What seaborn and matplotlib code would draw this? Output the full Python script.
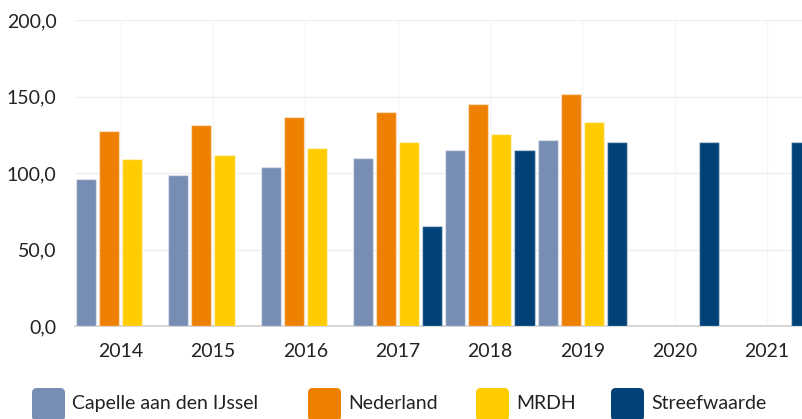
import numpy as np
import pandas as pd
import matplotlib
matplotlib.use("Agg")
import matplotlib.pyplot as plt
from matplotlib.patches import FancyBboxPatch
from matplotlib.ticker import FuncFormatter
import seaborn as sns

years = ["2014", "2015", "2016", "2017", "2018", "2019", "2020", "2021"]
capelle = [96.3, 98.5, 104.1, 110.0, 114.8, 121.4, np.nan, np.nan]
nederland = [127.7, 131.4, 136.6, 139.7, 145.3, 151.4, np.nan, np.nan]
mrdh = [109.2, 111.6, 116.1, 120.5, 125.7, 133.5, np.nan, np.nan]
streefwaarde = [np.nan, np.nan, np.nan, 65.4, 114.8, 120.0, 120.0, 120.0]

series = ["Capelle aan den IJssel", "Nederland", "MRDH", "Streefwaarde"]
colors = ["#778db4", "#ee8000", "#ffcc00", "#004278"]

df = pd.DataFrame({"jaar": years, series[0]: capelle, series[1]: nederland,
                   series[2]: mrdh, series[3]: streefwaarde})
long = df.melt(id_vars="jaar", var_name="reeks", value_name="waarde")

sns.set_style("white")
plt.rcParams["font.family"] = ["Lato", "DejaVu Sans"]

fig = plt.figure(figsize=(8.02, 4.19), dpi=100)
ax = fig.add_axes([74.5 / 802, 93 / 419, 738.5 / 802, 306 / 419])

sns.barplot(data=long, x="jaar", y="waarde", hue="reeks", order=years,
            hue_order=series, palette=colors, saturation=1, width=1.0, gap=0.13,
            errorbar=None, edgecolor=(1, 1, 1, 0.45), linewidth=1,
            legend=False, ax=ax, zorder=3)

ax.set_xlim(-0.5, len(years) - 0.5)
ax.set_ylim(0, 200)
ax.set_yticks([0, 50, 100, 150, 200])
ax.yaxis.set_major_formatter(FuncFormatter(lambda v, p: f"{v:.1f}".replace(".", ",")))
ax.set_xlabel("")
ax.set_ylabel("")

ax.grid(axis="y", color="#efefef", linewidth=1, zorder=0)
ax.grid(axis="x", color="#f5f5f5", linewidth=1, zorder=0)
ax.set_axisbelow(True)
for s in ["top", "right", "left"]:
    ax.spines[s].set_visible(False)
ax.spines["bottom"].set_color("#d0d0d0")
ax.spines["bottom"].set_linewidth(1.2)
ax.tick_params(axis="both", length=0, labelsize=14, colors="#222222")
ax.tick_params(axis="y", pad=13)
ax.tick_params(axis="x", pad=12)

# legend, drawn by hand with rounded squares
leg_x = [32, 308, 476, 611]
for x0, name, c in zip(leg_x, series, colors):
    fig.patches.append(FancyBboxPatch((x0 / 802, (419 - 421) / 419), 33 / 802, 33 / 419,
                                      boxstyle="round,pad=0,rounding_size=0.006",
                                      transform=fig.transFigure, facecolor=c,
                                      edgecolor="none", mutation_aspect=802 / 419))
    fig.text((x0 + 40) / 802, (419 - 403) / 419, name, fontsize=14,
             color="#222222", va="center", ha="left")

fig.savefig("out.png", dpi=100)
